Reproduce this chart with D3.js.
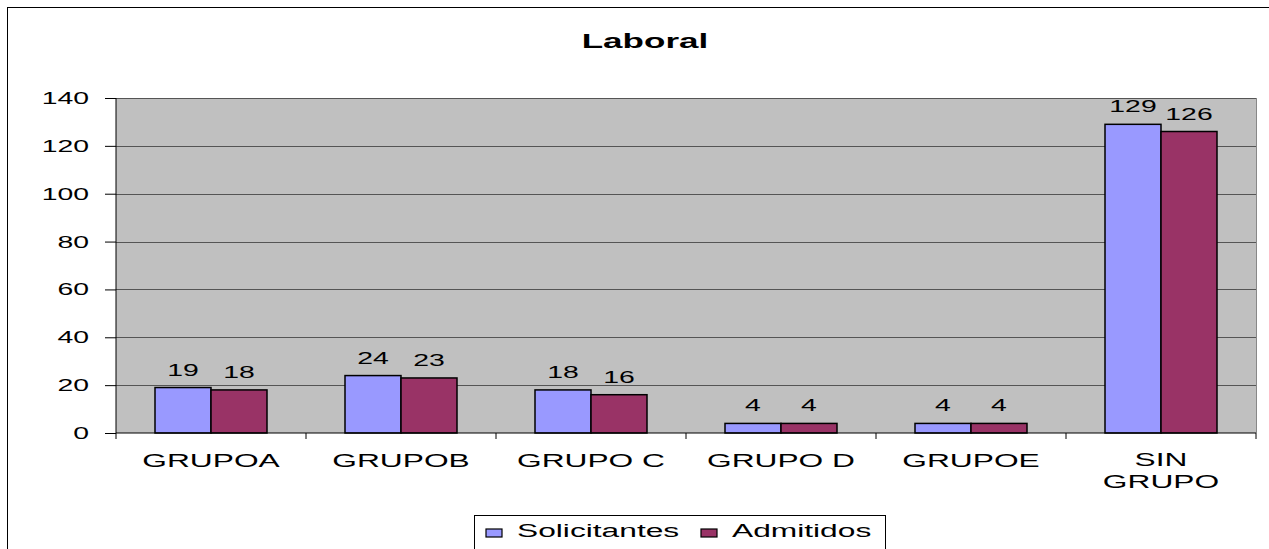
<!DOCTYPE html>
<html>
<head>
<meta charset="utf-8">
<script src="https://cdn.jsdelivr.net/npm/d3@7"></script>
<style>
  body { margin: 0; background: white; }
  svg { display: block; font-family: "Liberation Sans", Arial, sans-serif; }
</style>
</head>
<body>
<div id="viz"></div>
<script>
const categories = ["GRUPOA", "GRUPOB", "GRUPO C", "GRUPO D", "GRUPOE", "SIN GRUPO"];
const solicitantes = [19, 24, 18, 4, 4, 129];
const admitidos = [18, 23, 16, 4, 4, 126];
const seriesNames = ["Solicitantes", "Admitidos"];
const seriesColors = ["#9999FF", "#993366"];
const yTicks = [0, 20, 40, 60, 80, 100, 120, 140];

const width = 1269, height = 549;
const plot = { left: 116, right: 1256, top: 98, bottom: 433 };
const sx = 1.67; // the original text is stretched horizontally

const svg = d3.select("#viz").append("svg")
    .attr("width", width)
    .attr("height", height);

// places a horizontally stretched text at (px, py)
function stext(parent, px, py, str, size, anchor) {
    return parent.append("text")
        .attr("transform", `translate(${px},${py}) scale(${sx},1)`)
        .attr("text-anchor", anchor || "middle")
        .attr("font-size", size)
        .text(str);
}

// chart area border
svg.append("rect")
    .attr("x", 7.5).attr("y", 7.5)
    .attr("width", 1280).attr("height", 560)
    .attr("fill", "white")
    .attr("stroke", "black");

// title
stext(svg, 645, 48, "Laboral", 21).attr("font-weight", "bold");

const x = d3.scaleBand()
    .domain(categories)
    .range([plot.left, plot.right]);

const y = d3.scaleLinear()
    .domain([0, 140])
    .range([plot.bottom, plot.top]);

// plot background
svg.append("rect")
    .attr("x", plot.left).attr("y", plot.top)
    .attr("width", plot.right - plot.left)
    .attr("height", plot.bottom - plot.top)
    .attr("fill", "#C0C0C0");

// gridlines
svg.append("g")
    .selectAll("line")
    .data(yTicks.filter(d => d > 0))
    .enter().append("line")
    .attr("x1", plot.left).attr("x2", plot.right)
    .attr("y1", d => Math.round(y(d)) + 0.5)
    .attr("y2", d => Math.round(y(d)) + 0.5)
    .attr("stroke", "#555");

// right edge of plot area
svg.append("line")
    .attr("x1", plot.right + 0.5).attr("x2", plot.right + 0.5)
    .attr("y1", plot.top).attr("y2", plot.bottom)
    .attr("stroke", "#888");

// bars and value labels
const bw = 56;
const data = [solicitantes, admitidos];
data.forEach((vals, s) => {
    svg.append("g")
        .selectAll("rect")
        .data(vals)
        .enter().append("rect")
        .attr("x", (d, i) => x(categories[i]) + x.bandwidth() / 2 - bw + s * bw)
        .attr("y", d => y(d))
        .attr("width", bw)
        .attr("height", d => y(0) - y(d))
        .attr("fill", seriesColors[s])
        .attr("stroke", "black")
        .attr("stroke-width", 1.5);

    const lbl = svg.append("g");
    vals.forEach((d, i) => {
        stext(lbl, x(categories[i]) + x.bandwidth() / 2 - bw / 2 + s * bw, y(d) - 12, d, 17);
    });
});

// y axis
const yAxis = svg.append("g")
    .attr("transform", `translate(${plot.left},0)`)
    .call(d3.axisLeft(y).tickValues(yTicks).tickSize(11).tickPadding(15));
yAxis.selectAll("text")
    .attr("font-size", 17)
    .attr("fill", "black")
    .attr("font-family", "Liberation Sans, Arial, sans-serif")
    .attr("x", -27 / sx)
    .attr("transform", `scale(${sx},1)`);
yAxis.selectAll("line").attr("stroke", "black");
yAxis.select(".domain").attr("stroke", "black").attr("d", `M0,${plot.top}V${plot.bottom}`);

// x axis
const xAxis = svg.append("g")
    .attr("transform", `translate(0,${plot.bottom})`);
xAxis.append("line")
    .attr("x1", plot.left).attr("x2", plot.right)
    .attr("stroke", "black");
xAxis.selectAll(".tk")
    .data(categories.concat(["end"]))
    .enter().append("line")
    .attr("class", "tk")
    .attr("x1", (d, i) => plot.left + i * x.bandwidth())
    .attr("x2", (d, i) => plot.left + i * x.bandwidth())
    .attr("y1", 0).attr("y2", 6)
    .attr("stroke", "black");
categories.forEach(d => {
    const words = d === "SIN GRUPO" ? ["SIN", "GRUPO"] : [d];
    const cy = d === "SIN GRUPO" ? 33 : 34;
    words.forEach((w, k) => {
        stext(xAxis, x(d) + x.bandwidth() / 2, cy + k * 22, w, 19);
    });
});

// legend
const legend = svg.append("g");
legend.append("rect")
    .attr("x", 474.5).attr("y", 515.5)
    .attr("width", 411).attr("height", 40)
    .attr("fill", "white")
    .attr("stroke", "black");
const legX = [486, 701];
seriesNames.forEach((n, s) => {
    legend.append("rect")
        .attr("x", legX[s]).attr("y", 529)
        .attr("width", 16).attr("height", 8)
        .attr("fill", seriesColors[s])
        .attr("stroke", "black")
        .attr("stroke-width", 1.2);
    stext(legend, legX[s] + 31, 537, n, 19, "start");
});
</script>
</body>
</html>
